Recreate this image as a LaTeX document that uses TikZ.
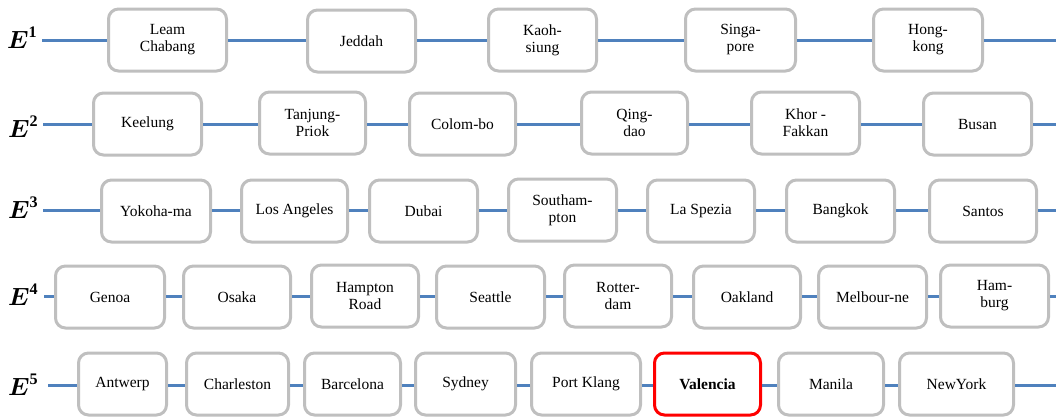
\documentclass[tikz,border=0pt]{standalone}
\usepackage{amsmath}
\usepackage{fontspec}
\setmainfont{Liberation Serif}
\definecolor{linkblue}{RGB}{79,129,189}
\definecolor{boxgray}{RGB}{191,191,191}

\begin{document}
\begin{tikzpicture}[
  x=1pt, y=-1pt,
  link/.style={draw=linkblue, line width=3pt},
  port/.style={draw=boxgray, fill=white, line width=3pt, rounded corners=10pt,
    align=center, minimum height=62pt, inner sep=2pt,
    font=\fontsize{15.5}{17}\selectfont},
  hot/.style={port, draw=red, font=\fontsize{15.5}{17}\selectfont\bfseries},
  route/.style={anchor=base west, inner sep=0pt, font=\fontsize{23}{25}\selectfont}
]
  \useasboundingbox (0,0) rectangle (1056,416);

  % --- E1 ---
  \node[route] (r1) at (7,48) {$\boldsymbol{E}^{\mathbf{1}}$};
  \coordinate (s1) at (42,40);
  \coordinate (e1) at (1056,40);
  \node[port, minimum width=118pt] (leam) at (167.5,40) {Leam\\Chabang};
  \node[port, minimum width=108pt] (jeddah) at (361.5,41) {Jeddah};
  \node[port, minimum width=108pt] (kaohsiung) at (542.5,40) {Kaoh-\\siung};
  \node[port, minimum width=110pt] (singapore) at (740.5,40) {Singa-\\pore};
  \node[port, minimum width=109pt] (hongkong) at (928,40) {Hong-\\kong};

  % --- E2 ---
  \node[route] (r2) at (8,137) {$\boldsymbol{E}^{\mathbf{2}}$};
  \coordinate (s2) at (43,124);
  \coordinate (e2) at (1056,124);
  \node[port, minimum width=108pt] (keelung) at (147.5,124) {Keelung};
  \node[port, minimum width=106pt] (tanjung) at (312.5,123) {Tanjung-\\Priok};
  \node[port, minimum width=106pt] (colombo) at (462.5,124) {Colom-bo};
  \node[port, minimum width=106pt] (qingdao) at (634.5,123) {Qing-\\dao};
  \node[port, minimum width=108pt] (khor) at (805.5,123) {Khor -\\Fakkan};
  \node[port, minimum width=108pt] (busan) at (977.5,124) {Busan};

  % --- E3 ---
  \node[route] (r3) at (8,218) {$\boldsymbol{E}^{\mathbf{3}}$};
  \coordinate (s3) at (43,210);
  \coordinate (e3) at (1056,210);
  \node[port, minimum width=109pt] (yokohama) at (156,211) {Yokoha-ma};
  \node[port, minimum width=106pt] (losangeles) at (294.5,211) {Los Angeles};
  \node[port, minimum width=108pt] (dubai) at (423.5,211) {Dubai};
  \node[port, minimum width=108pt] (southampton) at (562.5,210) {Southam-\\pton};
  \node[port, minimum width=107pt] (laspezia) at (701,211) {La Spezia};
  \node[port, minimum width=108pt] (bangkok) at (840.5,211) {Bangkok};
  \node[port, minimum width=107pt] (santos) at (983,211) {Santos};

  % --- E4 ---
  \node[route] (r4) at (8,305) {$\boldsymbol{E}^{\mathbf{4}}$};
  \coordinate (s4) at (44,296);
  \coordinate (e4) at (1056,296);
  \node[port, minimum width=109pt] (genoa) at (110,297) {Genoa};
  \node[port, minimum width=107pt] (osaka) at (237,297) {Osaka};
  \node[port, minimum width=107pt] (hampton) at (365,296) {Hampton\\Road};
  \node[port, minimum width=108pt] (seattle) at (490.5,297) {Seattle};
  \node[port, minimum width=107pt] (rotterdam) at (618,296) {Rotter-\\dam};
  \node[port, minimum width=107pt] (oakland) at (747,297) {Oakland};
  \node[port, minimum width=108pt] (melbourne) at (872.5,297) {Melbour-ne};
  \node[port, minimum width=108pt] (hamburg) at (994.5,296) {Ham-\\burg};

  % --- E5 ---
  \node[route] (r5) at (8,395) {$\boldsymbol{E}^{\mathbf{5}}$};
  \coordinate (s5) at (48,385);
  \coordinate (e5) at (1056,385);
  \node[port, minimum width=88pt] (antwerp) at (122.5,384) {Antwerp};
  \node[port, minimum width=102pt] (charleston) at (237.5,384) {Charleston};
  \node[port, minimum width=96pt] (barcelona) at (352.5,384) {Barcelona};
  \node[port, minimum width=100pt] (sydney) at (465.5,384) {Sydney};
  \node[port, minimum width=109pt] (portklang) at (586,384) {Port Klang};
  \node[hot, minimum width=106pt] (valencia) at (707.5,384) {Valencia};
  \node[port, minimum width=105pt] (manila) at (831,384) {Manila};
  \node[port, minimum width=114pt] (newyork) at (956.5,384) {NewYork};

  % --- Liens ---
  \draw[link] (s1) -- (leam.west |- s1);
  \draw[link] (leam.east |- s1) -- (jeddah.west |- s1);
  \draw[link] (jeddah.east |- s1) -- (kaohsiung.west |- s1);
  \draw[link] (kaohsiung.east |- s1) -- (singapore.west |- s1);
  \draw[link] (singapore.east |- s1) -- (hongkong.west |- s1);
  \draw[link] (hongkong.east |- s1) -- (e1);

  \draw[link] (s2) -- (keelung.west |- s2);
  \draw[link] (keelung.east |- s2) -- (tanjung.west |- s2);
  \draw[link] (tanjung.east |- s2) -- (colombo.west |- s2);
  \draw[link] (colombo.east |- s2) -- (qingdao.west |- s2);
  \draw[link] (qingdao.east |- s2) -- (khor.west |- s2);
  \draw[link] (khor.east |- s2) -- (busan.west |- s2);
  \draw[link] (busan.east |- s2) -- (e2);

  \draw[link] (s3) -- (yokohama.west |- s3);
  \draw[link] (yokohama.east |- s3) -- (losangeles.west |- s3);
  \draw[link] (losangeles.east |- s3) -- (dubai.west |- s3);
  \draw[link] (dubai.east |- s3) -- (southampton.west |- s3);
  \draw[link] (southampton.east |- s3) -- (laspezia.west |- s3);
  \draw[link] (laspezia.east |- s3) -- (bangkok.west |- s3);
  \draw[link] (bangkok.east |- s3) -- (santos.west |- s3);
  \draw[link] (santos.east |- s3) -- (e3);

  \draw[link] (s4) -- (genoa.west |- s4);
  \draw[link] (genoa.east |- s4) -- (osaka.west |- s4);
  \draw[link] (osaka.east |- s4) -- (hampton.west |- s4);
  \draw[link] (hampton.east |- s4) -- (seattle.west |- s4);
  \draw[link] (seattle.east |- s4) -- (rotterdam.west |- s4);
  \draw[link] (rotterdam.east |- s4) -- (oakland.west |- s4);
  \draw[link] (oakland.east |- s4) -- (melbourne.west |- s4);
  \draw[link] (melbourne.east |- s4) -- (hamburg.west |- s4);
  \draw[link] (hamburg.east |- s4) -- (e4);

  \draw[link] (s5) -- (antwerp.west |- s5);
  \draw[link] (antwerp.east |- s5) -- (charleston.west |- s5);
  \draw[link] (charleston.east |- s5) -- (barcelona.west |- s5);
  \draw[link] (barcelona.east |- s5) -- (sydney.west |- s5);
  \draw[link] (sydney.east |- s5) -- (portklang.west |- s5);
  \draw[link] (portklang.east |- s5) -- (valencia.west |- s5);
  \draw[link] (valencia.east |- s5) -- (manila.west |- s5);
  \draw[link] (manila.east |- s5) -- (newyork.west |- s5);
  \draw[link] (newyork.east |- s5) -- (e5);

\end{tikzpicture}
\end{document}
